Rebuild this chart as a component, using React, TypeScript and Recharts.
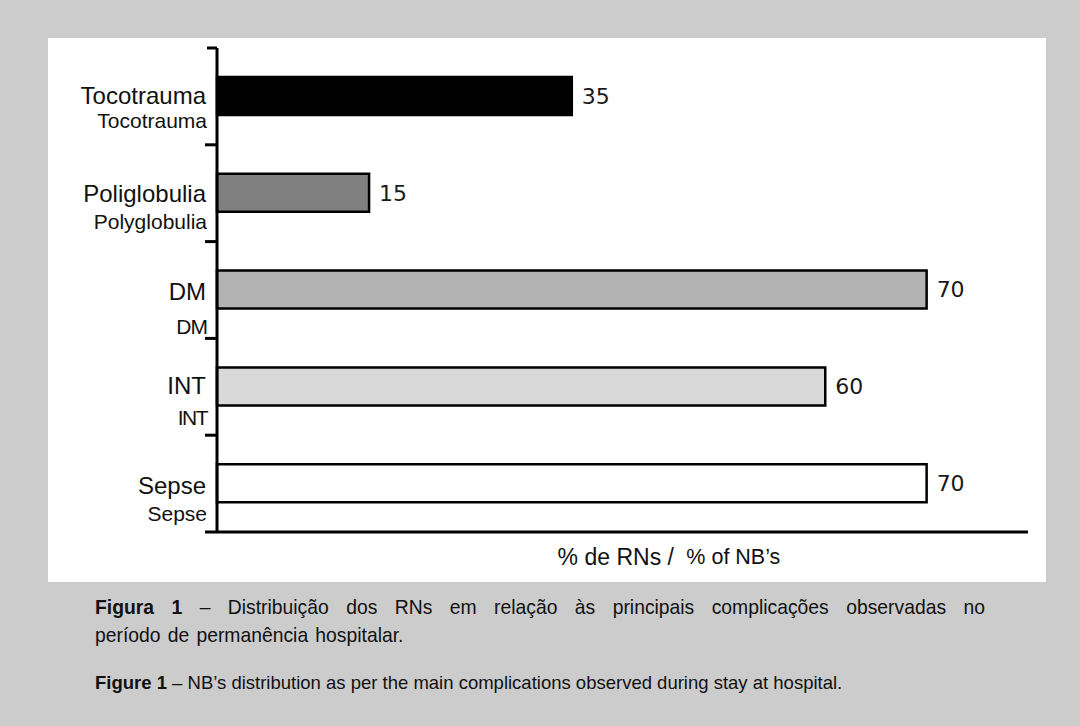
import React from 'react';
import { BarChart, Bar, XAxis, YAxis, Cell, LabelList } from 'recharts';

// ---- data ----
const categories = ['Tocotrauma', 'Poliglobulia', 'DM', 'INT', 'Sepse'];
const englishLabels = ['Tocotrauma', 'Polyglobulia', 'DM', 'INT', 'Sepse'];
const percentages = [35, 15, 70, 60, 70];
const barColors = ['#000000', '#808080', '#b3b3b3', '#d9d9d9', '#ffffff'];
const xDomain: [number, number] = [0, 80];
const axisLabelPt = '% de RNs / ';
const axisLabelEn = '% of NB\u2019s';

const data = categories.map((c, i) => ({ name: c, en: englishLabels[i], value: percentages[i] }));

// ---- layout / style ----
const SANS = '"Liberation Sans", Arial, Helvetica, sans-serif';
const PLOT_TOP = 48;
const PLOT_BOTTOM = 532;
const BAND = (PLOT_BOTTOM - PLOT_TOP) / categories.length;
const largeOffsets = [-1, 0, 1, -1, 2];
const smallOffsets = [24, 28, 36, 31, 30];
const smallSpacing = [0, 0, -1, -1.5, 0];

function YTick(props: any) {
  const { x, y, payload, index } = props;
  const i = index ?? categories.indexOf(payload.value);
  return (
    <g>
      {i === 0 && (
        <line x1={x - 10} x2={x} y1={y - BAND / 2} y2={y - BAND / 2} stroke="#000" strokeWidth={3} />
      )}
      <line x1={x - 12} x2={x} y1={y + BAND / 2} y2={y + BAND / 2} stroke="#000" strokeWidth={3} />
      <text
        x={x - 11}
        y={y + largeOffsets[i]}
        textAnchor="end"
        dominantBaseline="central"
        fontFamily={SANS}
        fontSize={24}
        fill="#111"
      >
        {payload.value}
      </text>
      <text
        x={x - 10}
        y={y + smallOffsets[i]}
        textAnchor="end"
        dominantBaseline="central"
        fontFamily={SANS}
        fontSize={21}
        letterSpacing={smallSpacing[i]}
        fill="#111"
      >
        {englishLabels[i]}
      </text>
    </g>
  );
}

function XLabel(props: any) {
  const vb = props.viewBox || {};
  return (
    <text x={vb.x + vb.width * 0.42} y={vb.y + 25} dominantBaseline="central" fontFamily={SANS} fill="#111">
      <tspan fontSize={23}>{axisLabelPt}</tspan>
      <tspan fontSize={21.5} dx={6}>{axisLabelEn}</tspan>
    </text>
  );
}

const captionBase: React.CSSProperties = {
  position: 'absolute',
  left: 95,
  fontFamily: SANS,
  color: '#111',
  whiteSpace: 'nowrap',
  transformOrigin: '0 0',
};

export default function App() {
  return (
    <div style={{ position: 'absolute', left: 0, top: 0, width: 1080, height: 726, background: '#cccccc', overflow: 'hidden' }}>
      <style>{'body{margin:0}'}</style>
      <div style={{ position: 'absolute', left: 48, top: 38, width: 998, height: 544, background: '#ffffff' }} />
      <div style={{ position: 'absolute', left: 0, top: 0 }}>
        <BarChart
          width={1080}
          height={600}
          data={data}
          layout="vertical"
          margin={{ top: PLOT_TOP, right: 52, bottom: 600 - PLOT_BOTTOM - 50, left: 0 }}
          barSize={38}
        >
          <XAxis
            type="number"
            domain={xDomain}
            tick={false}
            tickLine={false}
            axisLine={{ stroke: '#000', strokeWidth: 3 }}
            height={50}
            label={<XLabel />}
          />
          <YAxis
            type="category"
            dataKey="name"
            width={217}
            tickLine={false}
            tickSize={0}
            tickMargin={0}
            axisLine={{ stroke: '#000', strokeWidth: 3 }}
            tick={<YTick />}
            interval={0}
          />
          <Bar dataKey="value" stroke="#000" strokeWidth={2.5} isAnimationActive={false}>
            {data.map((d, i) => (
              <Cell key={d.name} fill={barColors[i]} />
            ))}
            <LabelList
              dataKey="value"
              position="right"
              offset={10}
              style={{ fontFamily: '"DejaVu Sans", Verdana, sans-serif', fontSize: 22, fill: '#1a1a1a' }}
            />
          </Bar>
        </BarChart>
      </div>
      <div
        style={{
          ...captionBase,
          top: 593,
          width: 890 / 0.92,
          fontSize: 21,
          lineHeight: '28px',
          textAlign: 'justify',
          textAlignLast: 'justify',
          transform: 'scaleX(0.92)',
        }}
      >
        <b>Figura 1</b> – Distribuição dos RNs em relação às principais complicações observadas no
      </div>
      <div
        style={{
          ...captionBase,
          top: 621,
          fontSize: 21,
          lineHeight: '28px',
          wordSpacing: 2,
          transform: 'scaleX(0.92)',
        }}
      >
        período de permanência hospitalar.
      </div>
      <div
        style={{
          ...captionBase,
          top: 671,
          fontSize: 18.5,
          lineHeight: '24px',
        }}
      >
        <b>Figure 1</b> – NB’s distribution as per the main complications observed during stay at hospital.
      </div>
    </div>
  );
}
